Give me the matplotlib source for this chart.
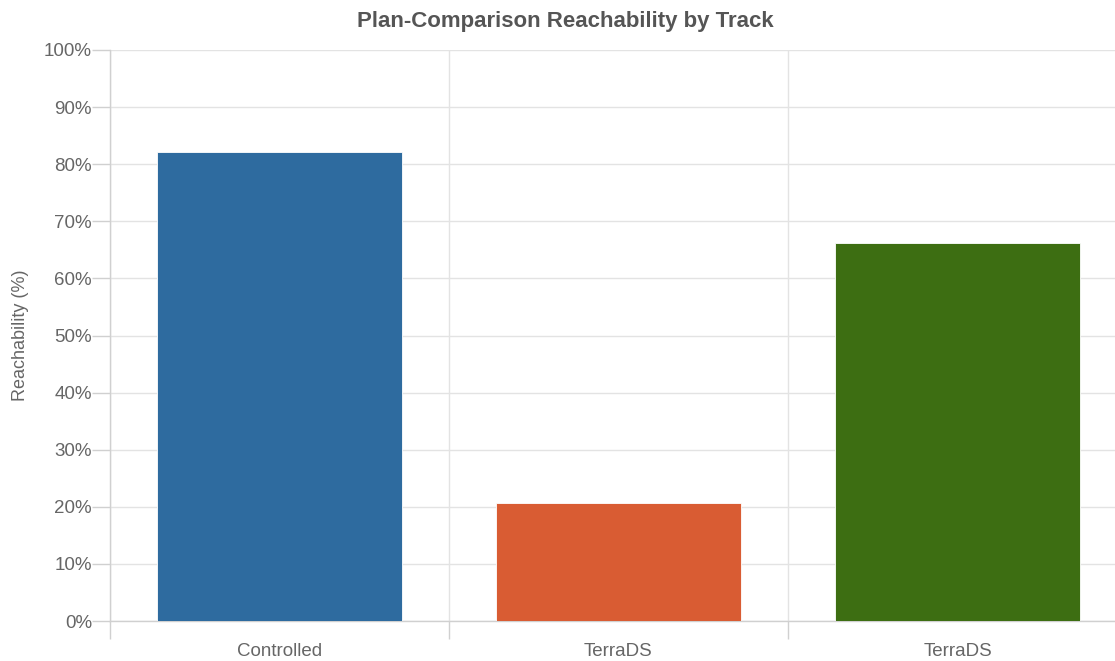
import matplotlib
matplotlib.use("Agg")
import matplotlib.pyplot as plt
from matplotlib.ticker import FuncFormatter, MultipleLocator

# data
tracks = ["Controlled", "TerraDS", "TerraDS"]
reachability = [82.1, 20.6, 66.2]
bar_colors = ["#2e6b9f", "#d95c33", "#3d6e12"]

plt.rcParams["font.family"] = ["Liberation Sans", "DejaVu Sans"]

fig = plt.figure(figsize=(11.15, 6.61), dpi=100)
# plot area: x 110..1127 px, y 50..621 px
ax = fig.add_axes([110 / 1115, 1 - 621 / 661, 1017 / 1115, 571 / 661])

x = list(range(len(tracks)))
ax.bar(x, reachability, width=0.72, color=bar_colors,
       edgecolor="#ffffff", linewidth=0.6, zorder=3)

ax.set_xlim(-0.5, len(tracks) - 0.5)
ax.set_ylim(0, 100)
ax.yaxis.set_major_locator(MultipleLocator(10))
ax.yaxis.set_major_formatter(FuncFormatter(lambda v, _: f"{v:.0f}%"))

# category labels in the middle, grid/ticks at the category borders
ax.set_xticks(x)
ax.set_xticklabels(tracks)
ax.set_xticks([i - 0.5 for i in range(len(tracks) + 1)], minor=True)
ax.tick_params(axis="x", which="major", length=0, pad=16,
               labelsize=13.5, labelcolor="#666666")
ax.tick_params(axis="x", which="minor", length=13, color="#d0d0d0", width=1)
ax.tick_params(axis="y", length=13, color="#d0d0d0", width=1,
               labelsize=13.5, labelcolor="#666666", pad=0)

ax.grid(axis="y", color="#e3e3e3", linewidth=1, zorder=0)
ax.grid(axis="x", which="minor", color="#e3e3e3", linewidth=1, zorder=0)

for side in ["top", "right"]:
    ax.spines[side].set_visible(False)
for side in ["left", "bottom"]:
    ax.spines[side].set_color("#d0d0d0")
    ax.spines[side].set_linewidth(1)

ax.set_ylabel("Reachability (%)", fontsize=13, color="#666666", labelpad=11)
fig.text(565 / 1115, 1 - 22 / 661, "Plan-Comparison Reachability by Track",
         ha="center", va="center", fontsize=16, fontweight="bold",
         color="#555555")

fig.savefig("out.png", dpi=100)
